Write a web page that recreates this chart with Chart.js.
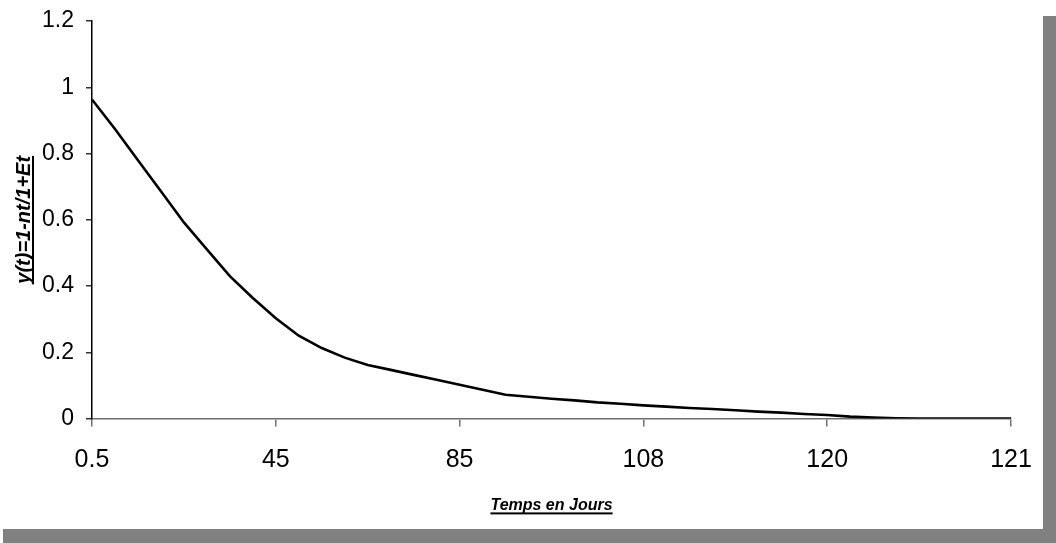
<!DOCTYPE html>
<html>
<head>
<meta charset="utf-8">
<script src="https://cdn.jsdelivr.net/npm/chart.js@4.4.1/dist/chart.umd.min.js"></script>
<style>
  html, body { margin: 0; padding: 0; background: #ffffff; }
  #wrap { position: relative; width: 1056px; height: 543px; overflow: hidden; }
  #c { position: absolute; left: 0; top: 0; }
  .shade { position: absolute; background: #808080; }
</style>
</head>
<body>
<div id="wrap">
  <canvas id="c" width="1056" height="543"></canvas>
  <div class="shade" style="left:1043px; top:16px; width:13px; height:527px;"></div>
  <div class="shade" style="left:3px; top:529px; width:1053px; height:14px;"></div>
</div>
<script>
// Tick labels shown on the time axis (one every LABEL_STEP samples)
const tickLabels = ['0.5', '45', '85', '108', '120', '121'];
const LABEL_STEP = 8;

// y(t) sampled along the time axis
const yValues = [
  0.963, 0.874, 0.780, 0.686, 0.592, 0.511, 0.430, 0.364, 0.303,
  0.250, 0.213, 0.184, 0.162, 0.147, 0.132, 0.117, 0.102,
  0.087, 0.072, 0.066, 0.060, 0.055, 0.049, 0.045, 0.040,
  0.036, 0.032, 0.029, 0.025, 0.021, 0.018, 0.014, 0.011,
  0.006, 0.003, 0.001, 0.000, 0.000, 0.000, 0.000, 0.000
];

const yTitle = 'y(t)=1-nt/1+Et';
const xTitle = 'Temps en Jours';

// category per sample; only every LABEL_STEP-th carries a label
const categories = yValues.map((_, i) => (i % LABEL_STEP === 0 ? tickLabels[i / LABEL_STEP] : ''));

const FONT = '"Liberation Sans", Arial, sans-serif';
const X_TITLE_SIZE = 16;
const Y_TITLE_SIZE = 20;
const xTitleFont = { family: FONT, size: X_TITLE_SIZE, weight: 'bold', style: 'italic' };
const yTitleFont = { family: FONT, size: Y_TITLE_SIZE, weight: 'bold', style: 'italic' };

// underline the axis titles
const underlineTitles = {
  id: 'underlineTitles',
  afterDraw(chart) {
    const ctx = chart.ctx;
    ctx.save();
    ctx.fillStyle = '#000';

    const xs = chart.scales.x;
    ctx.font = 'italic bold ' + X_TITLE_SIZE + 'px ' + FONT;
    const xw = ctx.measureText(xTitle).width;
    const xc = (xs.left + xs.right) / 2;
    const xy = xs.bottom - (X_TITLE_SIZE * 1.2 / 2 + xs.options.title.padding.bottom);
    ctx.fillRect(xc - xw / 2, xy + 7, xw, 2);

    const ys = chart.scales.y;
    ctx.font = 'italic bold ' + Y_TITLE_SIZE + 'px ' + FONT;
    const yw = ctx.measureText(yTitle).width;
    const yc = (ys.top + ys.bottom) / 2;
    const yx = ys.left + Y_TITLE_SIZE * 1.2 / 2 + ys.options.title.padding.top;
    ctx.fillRect(yx + 8, yc - yw / 2, 2, yw);
    ctx.restore();
  }
};

new Chart(document.getElementById('c'), {
  type: 'line',
  data: {
    labels: categories,
    datasets: [{
      data: yValues,
      borderColor: '#000000',
      borderWidth: 2.6,
      pointRadius: 0,
      tension: 0,
      fill: false
    }]
  },
  options: {
    responsive: false,
    animation: false,
    events: [],
    layout: { padding: { left: 0, top: 21, right: 45, bottom: 0 } },
    plugins: { legend: { display: false }, tooltip: { enabled: false } },
    scales: {
      x: {
        type: 'category',
        offset: false,
        afterBuildTicks(scale) {
          scale.ticks = scale.ticks.filter(t => t.value % LABEL_STEP === 0);
        },
        afterFit(scale) {
          scale.height = 124.4;
          scale.paddingLeft = 0;
          scale.paddingRight = 0;
        },
        border: { display: true, color: '#707070', width: 1.5 },
        grid: { drawOnChartArea: false, drawTicks: true, tickLength: 8, color: '#707070', lineWidth: 1.5 },
        ticks: {
          autoSkip: false,
          maxRotation: 0,
          padding: 19,
          color: '#000',
          font: { family: FONT, size: 25 }
        },
        title: {
          display: true,
          text: xTitle,
          color: '#000',
          font: xTitleFont,
          padding: { top: 0, bottom: 28 }
        }
      },
      y: {
        min: 0,
        max: 1.2,
        afterFit(scale) {
          scale.width = 92;
          scale.paddingTop = 0;
          scale.paddingBottom = 0;
        },
        border: { display: true, color: '#000', width: 1.5 },
        grid: { drawOnChartArea: false, drawTicks: true, tickLength: 6, color: '#333', lineWidth: 1.5 },
        ticks: {
          stepSize: 0.2,
          padding: 12,
          color: '#000',
          font: { family: FONT, size: 23 },
          callback: v => String(Math.round(v * 10) / 10)
        },
        title: {
          display: true,
          text: yTitle,
          color: '#000',
          font: yTitleFont,
          padding: { top: 12, bottom: 0 }
        }
      }
    }
  },
  plugins: [underlineTitles]
});
</script>
</body>
</html>
